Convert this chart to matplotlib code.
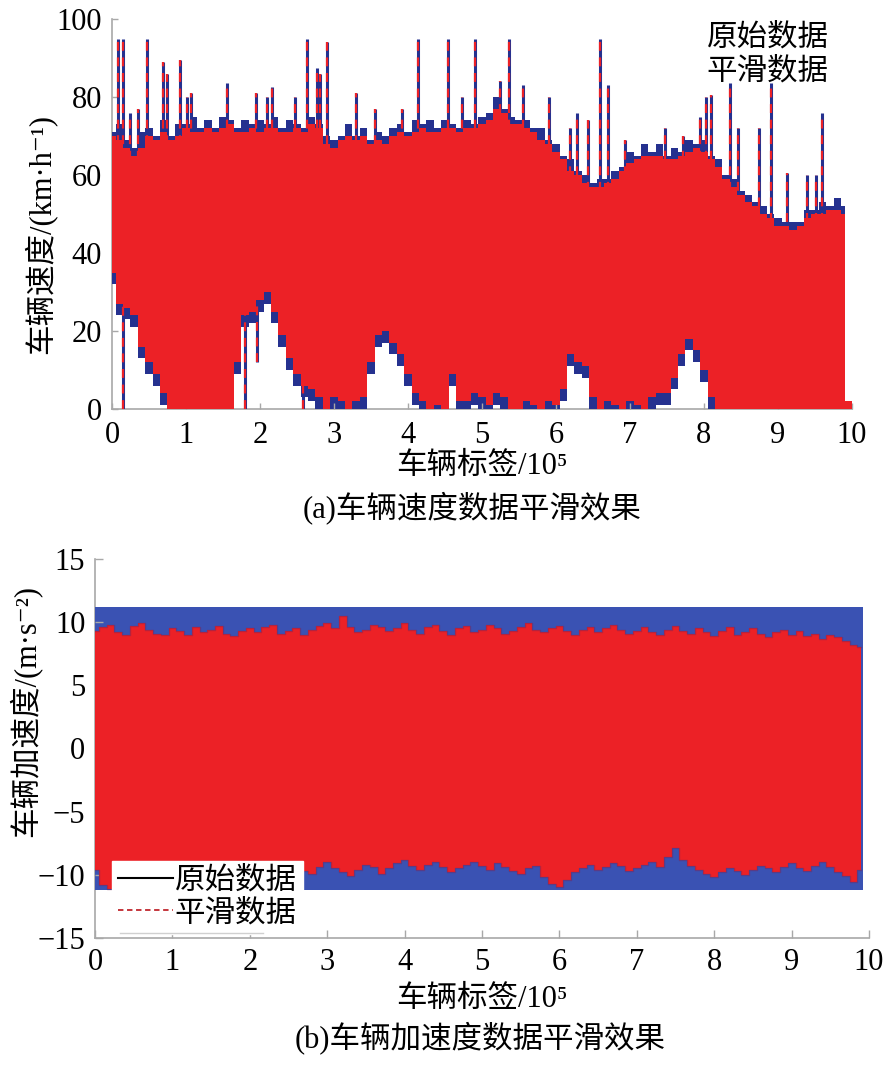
import matplotlib
matplotlib.use("Agg")
import matplotlib.pyplot as plt
from matplotlib.lines import Line2D

plt.rcParams['font.family'] = ['Liberation Serif', 'Noto Sans CJK SC', 'DejaVu Sans']

# ---- (a) vehicle speed, envelope sampled every 0.1 (x 10^5) ----
speed_x = [0.0, 0.1, 0.2, 0.3, 0.4, 0.5, 0.6, 0.7, 0.8, 0.9,
           1.0, 1.1, 1.2, 1.3, 1.4, 1.5, 1.6, 1.7, 1.8, 1.9,
           2.0, 2.1, 2.2, 2.3, 2.4, 2.5, 2.6, 2.7, 2.8, 2.9,
           3.0, 3.1, 3.2, 3.3, 3.4, 3.5, 3.6, 3.7, 3.8, 3.9,
           4.0, 4.1, 4.2, 4.3, 4.4, 4.5, 4.6, 4.7, 4.8, 4.9,
           5.0, 5.1, 5.2, 5.3, 5.4, 5.5, 5.6, 5.7, 5.8, 5.9,
           6.0, 6.1, 6.2, 6.3, 6.4, 6.5, 6.6, 6.7, 6.8, 6.9,
           7.0, 7.1, 7.2, 7.3, 7.4, 7.5, 7.6, 7.7, 7.8, 7.9,
           8.0, 8.1, 8.2, 8.3, 8.4, 8.5, 8.6, 8.7, 8.8, 8.9,
           9.0, 9.1, 9.2, 9.3, 9.4, 9.5, 9.6, 9.7, 9.8, 9.9]

# smoothed data envelope
speed_top = [70, 69, 67, 65, 67, 70, 69, 71, 69, 70,
             72, 71, 71, 72, 71, 72, 73, 71, 71, 72,
             71, 72, 72, 71, 71, 72, 71, 73, 72, 68,
             67, 69, 70, 69, 70, 68, 69, 68, 70, 71,
             70, 71, 72, 71, 71, 72, 72, 71, 72, 72,
             73, 74, 77, 76, 73, 73, 72, 71, 69, 68,
             66, 64, 61, 60, 58, 57, 57, 58, 59, 61,
             63, 64, 65, 65, 65, 64, 64, 65, 66, 67,
             66, 64, 62, 59, 57, 55, 53, 52, 50, 49,
             47, 47, 46, 47, 49, 50, 50, 51, 51, 50]
speed_bot = [35, 27, 26, 24, 16, 12, 9, 4, 0, 0,
             0, 0, 0, 0, 0, 0, 0, 12, 24, 25,
             28, 30, 25, 19, 13, 9, 6, 5, 3, 0,
             3, 2, 0, 2, 3, 12, 19, 20, 17, 14,
             9, 4, 2, 0, 1, 0, 9, 2, 2, 4,
             3, 1, 4, 3, 0, 0, 2, 1, 0, 2,
             1, 5, 14, 12, 11, 3, 0, 2, 1, 0,
             2, 1, 0, 3, 4, 4, 8, 14, 18, 15,
             10, 3, 0, 0, 0, 0, 0, 0, 0, 0,
             0, 0, 0, 0, 0, 0, 0, 0, 0, 0]

# raw data envelope
raw_top = [71, 73, 69, 67, 71, 72, 70, 74, 70, 73,
           73, 75, 72, 74, 72, 75, 74, 72, 74, 73,
           74, 73, 75, 72, 74, 73, 72, 75, 73, 70,
           69, 70, 73, 70, 72, 69, 71, 70, 72, 73,
           71, 74, 73, 74, 72, 74, 73, 72, 74, 73,
           75, 76, 80, 77, 75, 74, 74, 72, 72, 69,
           68, 65, 64, 61, 60, 58, 59, 59, 61, 62,
           66, 65, 68, 66, 68, 65, 67, 66, 69, 68,
           69, 65, 64, 60, 59, 56, 55, 53, 52, 50,
           49, 48, 48, 48, 51, 51, 53, 52, 54, 52]
raw_bot = [32, 24, 23, 21, 13, 9, 6, 1, 0, 0,
           0, 0, 0, 0, 0, 0, 0, 9, 21, 22,
           25, 27, 22, 16, 10, 6, 3, 2, 0, 0,
           0, 0, 0, 0, 0, 9, 16, 17, 14, 11,
           6, 1, 0, 0, 0, 0, 6, 0, 0, 1,
           0, 0, 1, 0, 0, 0, 0, 0, 0, 0,
           0, 2, 11, 9, 8, 0, 0, 0, 0, 0,
           0, 0, 0, 0, 1, 1, 5, 11, 15, 12,
           7, 0, 0, 0, 0, 0, 0, 0, 0, 0,
           0, 0, 0, 0, 0, 0, 0, 0, 0, 0]

# isolated raw peaks above the band
spike_x = [0.08, 0.15, 0.24, 0.35, 0.47, 0.69, 0.74, 0.92, 1.01, 1.07,
           1.55, 1.95, 2.09, 2.16, 2.47, 2.63, 2.77, 2.81, 2.90, 3.30,
           3.55, 3.92, 4.14, 4.54, 4.73, 4.90, 5.24, 5.37, 5.56, 5.90,
           6.19, 6.28, 6.43, 6.60, 6.70, 6.93, 7.47, 7.72, 7.95, 8.03,
           8.10, 8.35, 8.46, 8.74, 8.91, 9.12, 9.39, 9.52, 9.60]
spike_v = [95, 95, 76, 77, 95, 89, 86, 89.5, 80, 81,
           83.5, 81, 80, 82.5, 80, 95, 87.5, 86, 94, 81,
           77, 77, 95, 95, 80, 95, 84, 95, 83, 80,
           72, 76, 74, 95, 83, 69, 72, 70, 75, 80,
           80.5, 83.5, 72, 72, 83.5, 60.5, 60, 60, 76]
# raw dips below the band
dip_x = [0.15, 1.80, 1.96, 2.58]
dip_v = [0, 0, 12, 0]
tail_x = [9.9, 10.0]
tail_v = [2, 2]

# ---- (b) vehicle acceleration ----
acc_top = [9.3, 9.6, 9.8, 9.2, 9.0, 9.7, 9.9, 9.4, 9.1, 9.0,
           9.5, 9.3, 9.0, 9.6, 9.2, 9.4, 9.7, 9.1, 8.9, 9.3,
           9.5, 9.2, 9.6, 9.8, 9.1, 9.3, 9.5, 9.0, 9.4, 9.7,
           9.9, 9.5, 10.5, 9.6, 9.2, 9.4, 9.8, 9.6, 9.3, 9.5,
           9.9, 9.4, 9.1, 9.6, 9.8, 9.3, 9.0, 9.5, 9.7, 9.2,
           9.4, 9.8, 9.5, 9.1, 9.3, 9.6, 9.9, 9.4, 9.2, 9.5,
           9.7, 9.3, 9.0, 9.4, 9.6, 9.2, 9.5, 9.8, 9.4, 9.1,
           9.3, 9.6, 9.2, 9.0, 9.4, 9.7, 9.3, 9.1, 9.5, 9.2,
           8.9, 9.3, 9.6, 9.0, 9.2, 9.5, 9.1, 8.8, 9.2, 9.4,
           9.0, 9.3, 8.9, 9.1, 8.7, 9.0, 8.8, 8.5, 8.2, 8.0]
acc_bot = [-9.6, -10.8, -11.1, -10.2, -9.5, -9.2, -9.4, -9.0, -9.6, -9.3,
           -9.1, -9.5, -9.8, -9.2, -9.0, -9.4, -9.7, -9.3, -9.1, -9.6,
           -9.2, -8.9, -9.4, -9.8, -9.5, -9.1, -9.3, -9.7, -9.9, -9.4,
           -9.0, -9.5, -9.8, -10.1, -9.6, -9.2, -9.4, -9.9, -9.5, -9.1,
           -8.8, -9.3, -9.6, -9.2, -9.0, -9.4, -9.8, -9.5, -9.2, -9.0,
           -9.3, -9.6, -9.1, -9.4, -9.7, -9.9, -9.5, -9.3, -10.2, -10.7,
           -11.0, -10.4, -9.8, -9.5, -9.2, -9.6, -9.4, -9.1, -9.3, -9.7,
           -9.5, -9.2, -9.0, -9.4, -8.6, -7.9, -8.8, -9.3, -9.6, -9.9,
           -10.2, -9.8, -9.5, -9.7, -10.0, -9.6, -9.3, -9.5, -9.8, -9.4,
           -9.1, -9.5, -9.7, -9.3, -9.0, -9.4, -9.8, -10.1, -10.6, -9.6]
acc_raw_x = [0.0, 9.92]
acc_raw_top = [11.2, 11.2]
acc_raw_bot = [-11.2, -11.2]

RED = '#ec2126'
BLUE = '#25318f'
BLUE2 = '#3a52b3'
GRAY = '#a8a8a8'
FS = 22

fig = plt.figure(figsize=(8.83, 10.76), dpi=100)

def style_axes(ax):
    for s in ['top', 'right']:
        ax.spines[s].set_visible(False)
    for s in ['left', 'bottom']:
        ax.spines[s].set_color(GRAY)
        ax.spines[s].set_linewidth(1.2)
        ax.spines[s].set_zorder(0.5)
    ax.tick_params(direction='in', length=4, width=1, color=GRAY,
                   labelsize=22, pad=7)

# ---------- panel (a) ----------
ax1 = fig.add_axes([0.1268, 0.6199, 0.8381, 0.3624])
# spikes start inside the band so only the part above it shows
ax1.fill_between(speed_x, raw_bot, raw_top, step='mid', color=BLUE, lw=0, zorder=1)
ax1.vlines(spike_x, 40, spike_v, colors=BLUE, lw=2.2, zorder=2)
ax1.vlines(dip_x, dip_v, 40, colors=BLUE, lw=2.2, zorder=2)
ax1.fill_between(speed_x, speed_bot, speed_top, step='mid', color=RED, lw=0, zorder=3)
ax1.fill_between(tail_x, 0, tail_v, color=RED, lw=0, zorder=3)
ax1.vlines(spike_x, 40, spike_v, colors=RED, lw=1.6, linestyles=(0, (4, 3)), zorder=4)
ax1.vlines(dip_x, dip_v, 40, colors=RED, lw=1.6, linestyles=(0, (4, 3)), zorder=4)
ax1.set_xlim(0, 10)
ax1.set_ylim(0, 100)
ax1.set_xticks(range(0, 11))
ax1.set_yticks(range(0, 101, 20))
style_axes(ax1)
ax1.tick_params(axis='x', pad=9)
ax1.text(0.886, 0.951, '原始数据', transform=ax1.transAxes, ha='center',
         va='center', fontsize=FS)
ax1.text(0.886, 0.864, '平滑数据', transform=ax1.transAxes, ha='center',
         va='center', fontsize=FS)

fig.text(40 / 883, 1 - 234 / 1076, '车辆速度/(km·h⁻¹)', rotation=90,
         ha='center', va='center', fontsize=FS)
fig.text(482 / 883, 1 - 466 / 1076, '车辆标签/10⁵', ha='center',
         va='center', fontsize=FS)
fig.text(472 / 883, 1 - 508 / 1076, '(a)车辆速度数据平滑效果', ha='center',
         va='center', fontsize=FS)

# ---------- panel (b) ----------
ax2 = fig.add_axes([0.1076, 0.1283, 0.8766, 0.3522])
ax2.fill_between(acc_raw_x, acc_raw_bot, acc_raw_top, color=BLUE2, lw=0, zorder=1)
ax2.fill_between(speed_x, acc_bot, acc_top, step='mid', color=RED, lw=0, zorder=2)
ax2.step(speed_x, acc_top, where='mid', color='#7d2658', lw=1.0, alpha=0.5, zorder=3)
ax2.step(speed_x, acc_bot, where='mid', color='#7d2658', lw=1.0, alpha=0.5, zorder=3)
ax2.set_xlim(0, 10)
ax2.set_ylim(-15, 15)
ax2.set_xticks(range(0, 11))
ax2.set_yticks(range(-15, 16, 5))
style_axes(ax2)
ax2.tick_params(length=6)

handles = [Line2D([], [], color='black', lw=1.5),
           Line2D([], [], color='#c0262d', lw=1.3, ls=(0, (3, 2)))]
leg = ax2.legend(handles, ['原始数据', '平滑数据'], loc='lower left',
                 bbox_to_anchor=(0.022, 0.01), fontsize=FS, frameon=True,
                 fancybox=False, framealpha=1, facecolor='white',
                 edgecolor='white', handlelength=1.8, handletextpad=0.05,
                 labelspacing=0.1, borderpad=0.2, borderaxespad=0)
leg.set_zorder(5)
ax2.plot([0.032, 0.217], [0.013, 0.013], transform=ax2.transAxes,
         color='#d0d0d0', lw=1, zorder=6)

fig.text(25 / 883, 1 - 711 / 1076, '车辆加速度/(m·s⁻²)', rotation=90,
         ha='center', va='center', fontsize=FS)
fig.text(482 / 883, 1 - 999 / 1076, '车辆标签/10⁵', ha='center',
         va='center', fontsize=FS)
fig.text(480 / 883, 1 - 1038 / 1076, '(b)车辆加速度数据平滑效果', ha='center',
         va='center', fontsize=FS)

fig.savefig('out.png', dpi=100)
